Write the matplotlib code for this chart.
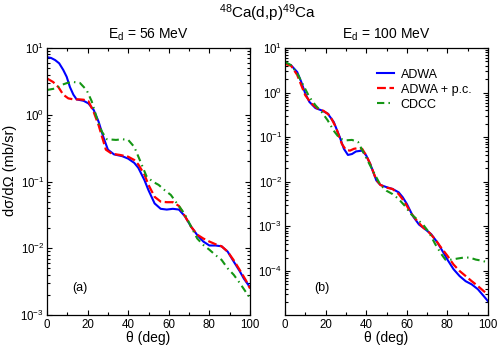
import matplotlib
matplotlib.use("Agg")
import matplotlib.pyplot as plt
from matplotlib.ticker import LogLocator, MultipleLocator, NullFormatter

plt.rcParams['font.family'] = ['Liberation Sans', 'DejaVu Sans']
plt.rcParams['mathtext.fontset'] = 'custom'
plt.rcParams['mathtext.rm'] = 'Liberation Sans'
plt.rcParams['mathtext.it'] = 'Liberation Sans:italic'
plt.rcParams['mathtext.bf'] = 'Liberation Sans:bold'

# Panel (a): E_d = 56 MeV
th_a_adwa = [0, 2, 4, 6, 8, 9.7, 11.3, 13, 14.6, 18, 20.4, 23, 25.4, 27.8, 30, 33, 37, 40, 43,
             45, 48, 50, 53, 56, 59, 62, 65, 68, 71, 74, 77, 80, 83, 86, 89, 92, 95, 97, 100]
a_adwa = [7.3, 7.1, 6.6, 5.9, 4.7, 3.7, 2.6, 2.0, 1.7, 1.62, 1.48, 1.18, 0.79, 0.46, 0.30,
          0.255, 0.24, 0.22, 0.19, 0.16, 0.105, 0.074, 0.047, 0.039, 0.038, 0.039, 0.038,
          0.030, 0.021, 0.0158, 0.0126, 0.011, 0.011, 0.0107, 0.0089, 0.0063, 0.0045,
          0.0035, 0.0026]

th_a_pc = [0, 3, 5.6, 8, 10.5, 13, 16, 18, 20.4, 23, 25.4, 29, 32, 36, 40, 43, 45, 48, 50,
           53, 56, 59, 62, 65, 68, 71, 74, 77, 80, 83, 86, 89, 92, 95, 98, 100]
a_pc = [3.5, 3.1, 2.6, 2.0, 1.76, 1.7, 1.7, 1.68, 1.6, 1.1, 0.7, 0.30, 0.26, 0.25, 0.235,
        0.21, 0.18, 0.127, 0.089, 0.059, 0.050, 0.049, 0.049, 0.043, 0.030, 0.021, 0.016,
        0.014, 0.0126, 0.0115, 0.0107, 0.0089, 0.0066, 0.0047, 0.0033, 0.0025]

th_a_cdcc = [0, 4.8, 7.2, 10, 12.9, 16.2, 19.5, 22, 24.6, 27, 29.5, 34, 37, 40, 43, 46, 49,
             52, 55, 58, 61, 64, 66, 68, 71, 74, 77, 80, 83, 86, 89, 92, 95, 98, 100]
a_cdcc = [2.35, 2.5, 2.8, 3.0, 3.1, 3.0, 2.35, 1.6, 0.88, 0.56, 0.43, 0.42, 0.43, 0.42,
          0.33, 0.20, 0.12, 0.10, 0.089, 0.074, 0.063, 0.047, 0.039, 0.032, 0.021, 0.014,
          0.0112, 0.0095, 0.0079, 0.0067, 0.005, 0.004, 0.003, 0.0022, 0.0018]

# Panel (b): E_d = 100 MeV
th_b_adwa = [0, 3, 6, 8, 10, 12, 15, 18, 21, 24, 27, 29, 31, 33, 35, 38, 40, 42, 45, 47,
             50, 53, 56, 58, 60, 63, 66, 69, 72, 75, 78, 80, 83, 86, 89, 92, 95, 98, 100]
b_adwa = [4.7, 4.1, 2.9, 1.74, 0.95, 0.62, 0.45, 0.40, 0.34, 0.22, 0.10, 0.055, 0.040,
          0.042, 0.048, 0.050, 0.039, 0.025, 0.0107, 0.0085, 0.0076, 0.0069, 0.0058,
          0.0045, 0.0032, 0.0017, 0.0011, 0.00087, 0.00067, 0.00044, 0.00026, 0.00018,
          0.00011, 7.7e-5, 5.9e-5, 5.0e-5, 3.9e-5, 2.7e-5, 2.1e-5]

th_b_pc = [0, 3, 6, 8, 10, 13, 16, 19, 22, 25, 28, 30, 32, 34, 36, 38, 40, 42, 45, 47,
           50, 53, 56, 59, 62, 65, 68, 71, 74, 77, 80, 83, 86, 89, 92, 95, 98, 100]
b_pc = [4.4, 4.0, 2.5, 1.47, 0.87, 0.57, 0.44, 0.39, 0.31, 0.17, 0.071, 0.052, 0.050,
        0.055, 0.057, 0.055, 0.039, 0.025, 0.011, 0.0085, 0.0074, 0.0069, 0.0053, 0.0035,
        0.0020, 0.00134, 0.00095, 0.00073, 0.00051, 0.00033, 0.00022, 0.00014, 0.0001,
        7.7e-5, 5.9e-5, 4.6e-5, 3.5e-5, 3.0e-5]

th_b_cdcc = [0, 3, 6, 9, 12, 15, 18, 21, 24, 27, 30, 33, 36, 39, 42, 45, 47, 50, 53, 56,
             59, 62, 65, 68, 71, 74, 77, 79, 82, 85, 88, 91, 94, 97, 100]
b_cdcc = [4.9, 4.1, 2.7, 1.47, 0.80, 0.52, 0.37, 0.24, 0.14, 0.093, 0.085, 0.087, 0.078,
          0.042, 0.023, 0.0126, 0.0085, 0.0063, 0.0053, 0.0041, 0.0029, 0.0019, 0.00145,
          0.0011, 0.00073, 0.0004, 0.00024, 0.00018, 0.00018, 0.00019, 0.0002, 0.0002,
          0.00018, 0.00017, 0.000155]

azul = '#0000ff'
rojo = '#ff0000'
verde = '#149614'

fig = plt.figure(figsize=(5.0, 3.49), dpi=100)
ax1 = fig.add_axes([0.094, 0.0974, 0.406, 0.765])
ax2 = fig.add_axes([0.570, 0.0974, 0.406, 0.765])

for ax, datos in [(ax1, [(th_a_adwa, a_adwa), (th_a_pc, a_pc), (th_a_cdcc, a_cdcc)]),
                  (ax2, [(th_b_adwa, b_adwa), (th_b_pc, b_pc), (th_b_cdcc, b_cdcc)])]:
    ax.plot(datos[0][0], datos[0][1], color=azul, lw=1.5, label='ADWA')
    ax.plot(datos[1][0], datos[1][1], color=rojo, lw=1.6, dashes=(4, 1.6), label='ADWA + p.c.')
    ax.plot(datos[2][0], datos[2][1], color=verde, lw=1.5, dashes=(3.5, 2, 0.7, 2), label='CDCC')
    ax.set_yscale('log')
    ax.set_xlim(0, 100)
    ax.xaxis.set_major_locator(MultipleLocator(20))
    ax.xaxis.set_minor_locator(MultipleLocator(10))
    ax.yaxis.set_major_locator(LogLocator(base=10, numticks=20))
    ax.yaxis.set_minor_locator(LogLocator(base=10, subs=range(2, 10), numticks=20))
    ax.yaxis.set_minor_formatter(NullFormatter())
    ax.tick_params(which='both', direction='in', top=True, right=True, labelsize=8.3)
    ax.tick_params(axis='y', which='both', pad=2)
    ax.tick_params(axis='x', which='both', pad=3)
    ax.tick_params(which='major', length=3.8, width=0.8)
    ax.tick_params(which='minor', length=2.2, width=0.8)
    ax.set_xlabel('θ (deg)', fontsize=10, labelpad=0)
    for s in ax.spines.values():
        s.set_linewidth(0.9)

ax1.set_ylim(1e-3, 10)
ax2.set_ylim(1.03e-5, 10)

ax1.set_ylabel('dσ/dΩ (mb/sr)', fontsize=10.5)
ax1.yaxis.set_label_coords(-0.15, 0.54)
ax1.set_title(r'E$_\mathregular{d}$ = 56 MeV', fontsize=10, pad=7)
ax2.set_title(r'E$_\mathregular{d}$ = 100 MeV', fontsize=10, pad=7)
ax1.text(0.16, 0.1, '(a)', transform=ax1.transAxes, fontsize=9, ha='center', va='center')
ax2.text(0.18, 0.1, '(b)', transform=ax2.transAxes, fontsize=9, ha='center', va='center')

fig.text(0.535, 0.962, r'$\mathregular{^{48}}$Ca(d,p)$\mathregular{^{49}}$Ca', fontsize=11,
         ha='center', va='center')

ax2.legend(loc='upper left', bbox_to_anchor=(0.40, 0.965), frameon=False, fontsize=9,
           handlelength=1.3, handletextpad=0.55, labelspacing=0.25)

fig.savefig('out.png', dpi=100)
